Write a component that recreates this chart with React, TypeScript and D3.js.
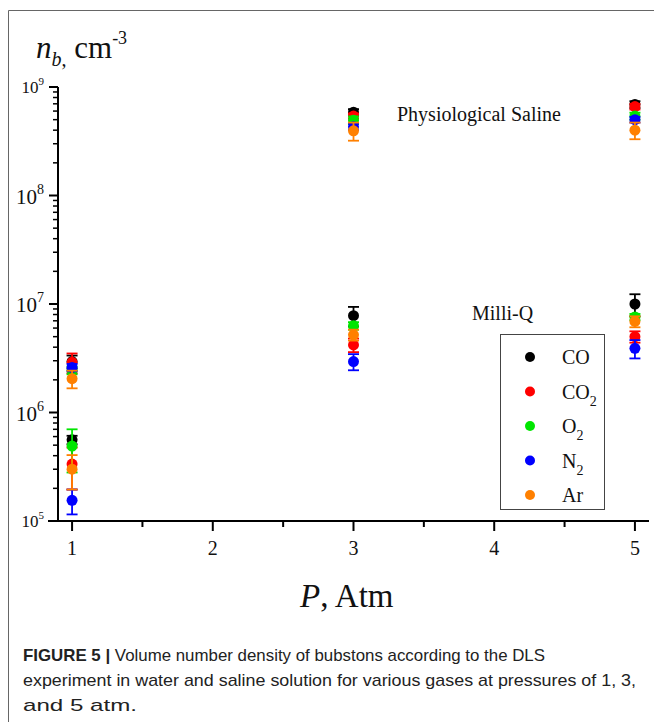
import * as d3 from "d3";
import { useEffect, useRef } from "react";

const gases = ["CO", "CO2", "O2", "N2", "Ar"];
const gasLabels = [
  { main: "CO", sub: "" },
  { main: "CO", sub: "2" },
  { main: "O", sub: "2" },
  { main: "N", sub: "2" },
  { main: "Ar", sub: "" },
];
const gasColors = ["#000000", "#ff0000", "#00e600", "#0000ff", "#ff8000"];
const pressures = [1, 3, 5];

// Milli-Q water (lower cluster)
const waterValues = [
  [5.6e5, 7.8e6, 1.0e7],
  [3.35e5, 4.2e6, 5.0e6],
  [4.9e5, 6.3e6, 7.6e6],
  [1.55e5, 2.95e6, 3.9e6],
  [3.0e5, 5.2e6, 6.9e6],
];
const waterErrors = [
  [0.5e5, 1.6e6, 2.3e6],
  [1.4e5, 6e5, 6e5],
  [2.1e5, 5e5, 5e5],
  [0.4e5, 5e5, 7.5e5],
  [1.05e5, 6e5, 8e5],
];

// Physiological saline (upper cluster)
const salineValues = [
  [2.95e6, 5.85e8, 6.9e8],
  [2.9e6, 5.4e8, 6.6e8],
  [2.45e6, 4.95e8, 5.4e8],
  [2.6e6, 4.3e8, 5.0e8],
  [2.05e6, 3.95e8, 4.0e8],
];
const salineErrors = [
  [4e5, 4e7, 5e7],
  [6e5, 3e7, 4e7],
  [2e5, 4e7, 4e7],
  [2e5, 3e7, 3e7],
  [3.8e5, 7.5e7, 7e7],
];

const xTicks = [1, 2, 3, 4, 5];
const xMinorTicks = [1.5, 2.5, 3.5, 4.5];
const yExponents = [5, 6, 7, 8, 9];

const captionLines = [
  "Volume number density of bubstons according to the DLS",
  "experiment in water and saline solution for various gases at pressures of 1, 3,",
  "and 5 atm.",
];

const W = 654;
const H = 722;
const plot = { left: 58, right: 649, top: 87, bottom: 521 };
const serif = "'Liberation Serif', 'Times New Roman', serif";

export default function App() {
  const svgRef = useRef<SVGSVGElement>(null);

  useEffect(() => {
    if (!svgRef.current) return;
    drawChart(svgRef.current);
  }, []);

  return (
    <svg
      ref={svgRef}
      width={W}
      height={H}
      style={{ position: "absolute", left: 0, top: 0, background: "#fff" }}
    />
  );
}

function drawChart(svgElement: SVGSVGElement) {
  const svg = d3.select(svgElement);
  svg.selectAll("*").remove();

  const x = d3.scaleLinear().domain([0.9, 5.1]).range([plot.left, plot.right]);
  const y = d3.scaleLog().domain([1e5, 1e9]).range([plot.bottom, plot.top]);

  // figure frame
  svg
    .append("path")
    .attr("d", `M8.5,${H} L8.5,10.5 L${W},10.5`)
    .attr("fill", "none")
    .attr("stroke", "#666")
    .attr("stroke-width", 1);

  // y axis
  const yMinor: number[] = [];
  for (let e = 5; e < 9; e++) {
    for (let m = 2; m <= 9; m++) yMinor.push(m * Math.pow(10, e));
  }
  const yAxisG = svg.append("g").attr("transform", `translate(${plot.left},0)`);
  yAxisG
    .append("line")
    .attr("y1", plot.top)
    .attr("y2", plot.bottom)
    .attr("stroke", "#000")
    .attr("stroke-width", 2);
  yAxisG
    .selectAll("line.major")
    .data(yExponents)
    .join("line")
    .attr("class", "major")
    .attr("x1", -9)
    .attr("x2", 0)
    .attr("y1", (d) => y(Math.pow(10, d)))
    .attr("y2", (d) => y(Math.pow(10, d)))
    .attr("stroke", "#000")
    .attr("stroke-width", 2);
  yAxisG
    .selectAll("line.minor")
    .data(yMinor)
    .join("line")
    .attr("class", "minor")
    .attr("x1", -5)
    .attr("x2", 0)
    .attr("y1", (d) => y(d))
    .attr("y2", (d) => y(d))
    .attr("stroke", "#000")
    .attr("stroke-width", 1.5);

  const yLabels = svg
    .append("g")
    .selectAll("text")
    .data(yExponents)
    .join("text")
    .attr("font-family", serif)
    .attr("fill", "#111")
    .attr("text-anchor", "end");
  yLabels.each(function (d) {
    const small = d === 5 || d === 9;
    const t = d3.select(this);
    const yy = y(Math.pow(10, d));
    t.attr("x", 44).attr("y", yy + (small ? 6 : 8));
    t.append("tspan")
      .attr("font-size", small ? 17 : 21)
      .text("10");
    t.append("tspan")
      .attr("font-size", small ? 11 : 14)
      .attr("dy", small ? -8 : -10)
      .text(String(d));
  });

  // x axis
  const xAxisG = svg.append("g").attr("transform", `translate(0,${plot.bottom})`);
  xAxisG
    .append("line")
    .attr("x1", 48)
    .attr("x2", plot.right)
    .attr("stroke", "#000")
    .attr("stroke-width", 2);
  xAxisG
    .selectAll("line.major")
    .data(xTicks)
    .join("line")
    .attr("class", "major")
    .attr("x1", (d) => x(d))
    .attr("x2", (d) => x(d))
    .attr("y1", 0)
    .attr("y2", 10)
    .attr("stroke", "#000")
    .attr("stroke-width", 2);
  xAxisG
    .selectAll("line.minor")
    .data(xMinorTicks)
    .join("line")
    .attr("class", "minor")
    .attr("x1", (d) => x(d))
    .attr("x2", (d) => x(d))
    .attr("y1", 0)
    .attr("y2", 6)
    .attr("stroke", "#000")
    .attr("stroke-width", 2);
  xAxisG
    .selectAll("text")
    .data(xTicks)
    .join("text")
    .attr("x", (d) => x(d))
    .attr("y", 34)
    .attr("text-anchor", "middle")
    .attr("font-family", serif)
    .attr("font-size", 20)
    .attr("fill", "#111")
    .text((d) => String(d));

  // data: error bars + markers, two solutions
  const dataG = svg.append("g");
  const datasets = [
    { values: salineValues, errors: salineErrors },
    { values: waterValues, errors: waterErrors },
  ];
  gases.forEach((gas, gi) => {
    datasets.forEach((ds) => {
      const pts = pressures.map((p, pi) => ({
        p,
        v: ds.values[gi][pi],
        e: ds.errors[gi][pi],
      }));
      const g = dataG.append("g").attr("class", `gas-${gas}`);
      const color = gasColors[gi];
      g.selectAll("line.bar")
        .data(pts)
        .join("line")
        .attr("class", "bar")
        .attr("x1", (d) => x(d.p))
        .attr("x2", (d) => x(d.p))
        .attr("y1", (d) => y(d.v + d.e))
        .attr("y2", (d) => y(d.v - d.e))
        .attr("stroke", color)
        .attr("stroke-width", 1.8);
      [1, -1].forEach((sgn) => {
        g.append("g")
          .selectAll("line")
          .data(pts)
          .join("line")
          .attr("x1", (d) => x(d.p) - 5.5)
          .attr("x2", (d) => x(d.p) + 5.5)
          .attr("y1", (d) => y(d.v + sgn * d.e))
          .attr("y2", (d) => y(d.v + sgn * d.e))
          .attr("stroke", color)
          .attr("stroke-width", 1.8);
      });
      g.selectAll("circle")
        .data(pts)
        .join("circle")
        .attr("cx", (d) => x(d.p))
        .attr("cy", (d) => y(d.v))
        .attr("r", 5.5)
        .attr("fill", color);
    });
  });

  // annotations
  svg
    .append("text")
    .attr("x", 397)
    .attr("y", 121)
    .attr("font-family", serif)
    .attr("font-size", 20)
    .attr("fill", "#111")
    .text("Physiological Saline");
  svg
    .append("text")
    .attr("x", 472)
    .attr("y", 320)
    .attr("font-family", serif)
    .attr("font-size", 20)
    .attr("fill", "#111")
    .text("Milli-Q");

  // legend
  const legend = svg.append("g");
  legend
    .append("rect")
    .attr("x", 500.5)
    .attr("y", 334.5)
    .attr("width", 104)
    .attr("height", 175)
    .attr("fill", "#fff")
    .attr("stroke", "#444")
    .attr("stroke-width", 1);
  const rowY = d3.scaleLinear().domain([0, 4]).range([357, 495]);
  gasLabels.forEach((lab, i) => {
    legend
      .append("circle")
      .attr("cx", 530)
      .attr("cy", rowY(i))
      .attr("r", 5)
      .attr("fill", gasColors[i]);
    const t = legend
      .append("text")
      .attr("x", 562)
      .attr("y", rowY(i) + 7)
      .attr("font-family", serif)
      .attr("font-size", 20)
      .attr("fill", "#111");
    t.append("tspan").text(lab.main);
    if (lab.sub) {
      t.append("tspan").attr("font-size", 14).attr("dy", 7).text(lab.sub);
    }
  });

  // axis titles
  const yTitle = svg
    .append("text")
    .attr("x", 36)
    .attr("y", 58)
    .attr("font-family", serif)
    .attr("font-size", 31)
    .attr("fill", "#111");
  yTitle.append("tspan").attr("font-style", "italic").text("n");
  yTitle
    .append("tspan")
    .attr("font-style", "italic")
    .attr("font-size", 20)
    .attr("dy", 8)
    .text("b");
  yTitle.append("tspan").attr("font-size", 20).text(",");
  yTitle.append("tspan").attr("dy", -8).text(" cm");
  yTitle.append("tspan").attr("font-size", 18).attr("dy", -14).text("-3");

  const xTitle = svg
    .append("text")
    .attr("x", 300)
    .attr("y", 607)
    .attr("font-family", serif)
    .attr("font-size", 33)
    .attr("fill", "#111");
  xTitle.append("tspan").attr("font-style", "italic").text("P");
  xTitle.append("tspan").text(", Atm");

  // caption
  const cap = svg
    .append("g")
    .attr("font-family", "'Liberation Sans', Arial, sans-serif")
    .attr("font-size", 17)
    .attr("fill", "#222");
  const capWidths = [522, 613, 114];
  captionLines.forEach((line, i) => {
    const t = cap
      .append("text")
      .attr("x", 23)
      .attr("y", 661 + i * 25)
      .attr("textLength", capWidths[i])
      .attr("lengthAdjust", "spacingAndGlyphs");
    if (i === 0) {
      t.append("tspan").attr("font-weight", "bold").text("FIGURE 5 | ");
    }
    t.append("tspan").text(line);
  });
}
